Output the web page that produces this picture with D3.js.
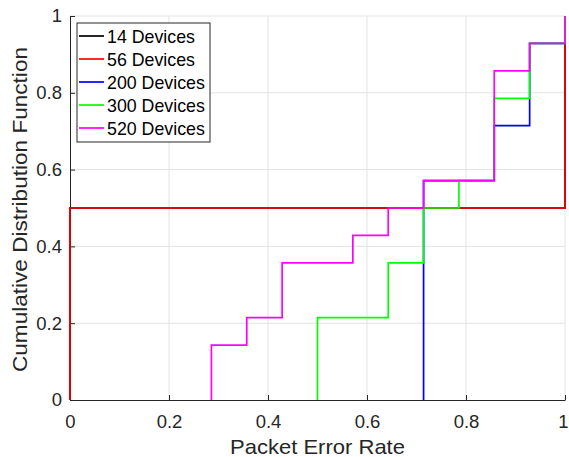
<!DOCTYPE html>
<html>
<head>
<meta charset="utf-8">
<script src="https://cdn.jsdelivr.net/npm/d3@7"></script>
<style>
  body { margin: 0; background: #fff; }
  svg { font-family: "Liberation Sans", Arial, Helvetica, sans-serif; }
</style>
</head>
<body>
<svg id="chart" width="569" height="457"></svg>
<script>
// series names and colours (drawn in this order, last on top)
const seriesNames = ['14 Devices', '56 Devices', '200 Devices', '300 Devices', '520 Devices'];
const seriesColors = ['#000000', '#ff0000', '#0000ff', '#00ff00', '#ff00ff'];

// step positions (packet error rate) and CDF level after each step
const per14 = [0, 1];
const cdf14 = [0.5, 1];
const per56 = [0, 1];
const cdf56 = [0.5, 1];
const per200 = [0.7143, 0.8571, 0.9286, 1];
const cdf200 = [0.5714, 0.7143, 0.9286, 1];
const per300 = [0.5, 0.6429, 0.7143, 0.7857, 0.8571, 0.9286, 1];
const cdf300 = [0.2143, 0.3571, 0.5, 0.5714, 0.7857, 0.9286, 1];
const per520 = [0.2857, 0.3571, 0.4286, 0.5714, 0.6429, 0.7143, 0.8571, 0.9286, 1];
const cdf520 = [0.1429, 0.2143, 0.3571, 0.4286, 0.5, 0.5714, 0.8571, 0.9286, 1];

const xTicks = [0, 0.2, 0.4, 0.6, 0.8, 1];
const yTicks = [0, 0.2, 0.4, 0.6, 0.8, 1];

const perList = [per14, per56, per200, per300, per520];
const cdfList = [cdf14, cdf56, cdf200, cdf300, cdf520];

const svg = d3.select('#chart');
const mLeft = 70, mRight = 565, mTop = 16, mBottom = 400;
const axisColor = '#262626';

let xScale = d3.scaleLinear().domain([0, 1]).range([mLeft, mRight]);
let yScale = d3.scaleLinear().domain([0, 1]).range([mBottom, mTop]);

// grid
svg.append('g').selectAll('line')
  .data(xTicks.slice(1))
  .enter().append('line')
  .attr('x1', d => xScale(d)).attr('x2', d => xScale(d))
  .attr('y1', mTop).attr('y2', mBottom)
  .attr('stroke', '#e3e3e3').attr('stroke-width', 1);
svg.append('g').selectAll('line')
  .data(yTicks.slice(1))
  .enter().append('line')
  .attr('x1', mLeft).attr('x2', mRight)
  .attr('y1', d => yScale(d)).attr('y2', d => yScale(d))
  .attr('stroke', '#e3e3e3').attr('stroke-width', 1);

// axes (ticks pointing inward)
let xAxis = svg.append('g')
  .attr('transform', `translate(0,${mBottom})`)
  .call(d3.axisBottom(xScale).tickValues(xTicks).tickFormat(d3.format('~g')).tickSizeInner(-5).tickSizeOuter(0).tickPadding(15));
let yAxis = svg.append('g')
  .attr('transform', `translate(${mLeft},0)`)
  .call(d3.axisLeft(yScale).tickValues(yTicks).tickFormat(d3.format('~g')).tickSizeInner(-5).tickSizeOuter(0).tickPadding(8));

[xAxis, yAxis].forEach(ax => {
  ax.select('.domain').attr('stroke', axisColor).attr('stroke-width', 1);
  ax.selectAll('.tick line').attr('stroke', axisColor);
  ax.selectAll('.tick text').attr('fill', axisColor).style('font-size', '18.5px');
});
xAxis.selectAll('.tick text').filter(d => d === 1).attr('dx', -2);

// lines
let line = d3.line()
  .x(d => xScale(d[0]))
  .y(d => yScale(d[1]))
  .curve(d3.curveStepAfter);

perList.forEach((pers, i) => {
  let pts = [[pers[0], 0]].concat(pers.map((p, j) => [p, cdfList[i][j]]));
  svg.append('path')
    .datum(pts)
    .attr('fill', 'none')
    .attr('stroke', seriesColors[i])
    .attr('stroke-width', 1.7)
    .attr('d', line);
});

// axis labels
svg.append('text')
  .attr('x', 230).attr('y', 454)
  .attr('fill', axisColor)
  .attr('textLength', 175)
  .attr('lengthAdjust', 'spacingAndGlyphs')
  .style('font-size', '21px')
  .text('Packet Error Rate');
svg.append('text')
  .attr('transform', `translate(27,372) rotate(-90)`)
  .attr('fill', axisColor)
  .attr('textLength', 325)
  .attr('lengthAdjust', 'spacingAndGlyphs')
  .style('font-size', '21px')
  .text('Cumulative Distribution Function');

// legend
let legend = svg.append('g');
legend.append('rect')
  .attr('x', 77).attr('y', 23).attr('width', 133).attr('height', 119)
  .attr('fill', '#fff').attr('stroke', axisColor).attr('stroke-width', 1);
seriesNames.forEach((name, i) => {
  let y = 36 + i * 23;
  legend.append('line')
    .attr('x1', 79).attr('x2', 104).attr('y1', y).attr('y2', y)
    .attr('stroke', seriesColors[i]).attr('stroke-width', 1.7);
  legend.append('text')
    .attr('x', 107).attr('y', y + 6.5)
    .attr('fill', '#000')
    .style('font-size', '17.8px')
    .text(name);
});
</script>
</body>
</html>
